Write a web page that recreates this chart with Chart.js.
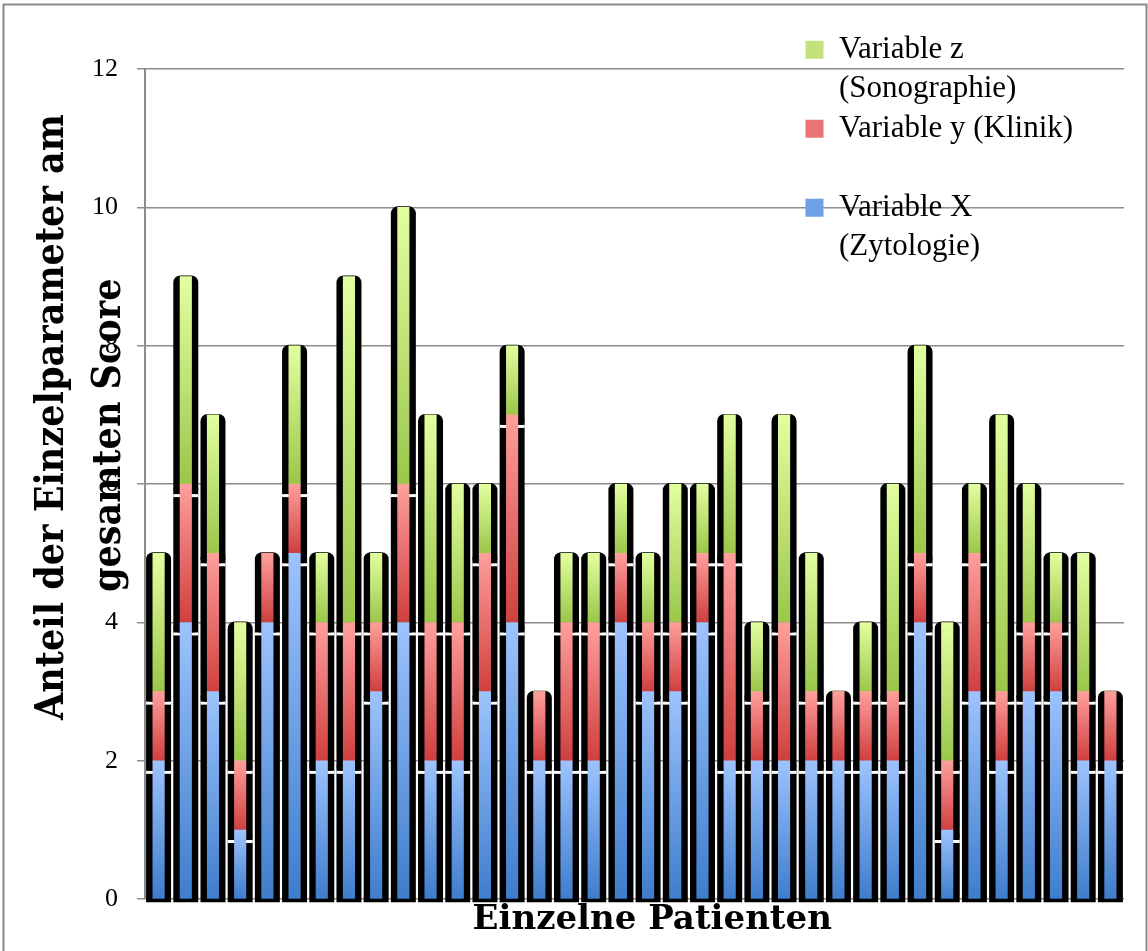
<!DOCTYPE html>
<html>
<head>
<meta charset="utf-8">
<title>Anteil der Einzelparameter am gesamten Score</title>
<script src="https://cdn.jsdelivr.net/npm/chart.js@4.4.1/dist/chart.umd.min.js"></script>
<style>
  html, body { margin: 0; padding: 0; background: #fff; }
  #wrap { width: 1148px; height: 951px; }
</style>
</head>
<body>
<div id="wrap"><canvas id="scoreChart" width="1148" height="951"></canvas></div>
<script>
// one bar per patient
const patients = ["1", "2", "3", "4", "5", "6", "7", "8", "9", "10", "11", "12",
  "13", "14", "15", "16", "17", "18", "19", "20", "21", "22", "23", "24",
  "25", "26", "27", "28", "29", "30", "31", "32", "33", "34", "35", "36"];

// Variable X (Zytologie) - bottom segment
const zytologie = [2, 4, 3, 1, 4, 5, 2, 2, 3, 4, 2, 2, 3, 4, 2, 2, 2, 4,
  3, 3, 4, 2, 2, 2, 2, 2, 2, 2, 4, 1, 3, 2, 3, 3, 2, 2];
// Variable y (Klinik) - middle segment
const klinik = [1, 2, 2, 1, 1, 1, 2, 2, 1, 2, 2, 2, 2, 3, 1, 2, 2, 1,
  1, 1, 1, 3, 1, 2, 1, 1, 1, 1, 1, 1, 2, 1, 1, 1, 1, 1];
// Variable z (Sonographie) - top segment
const sonographie = [2, 3, 2, 2, 0, 2, 1, 5, 1, 4, 3, 2, 1, 1, 0, 1, 1, 1,
  1, 2, 1, 2, 1, 3, 2, 0, 1, 3, 3, 2, 1, 4, 2, 1, 2, 0];

const yTicks = [0, 2, 4, 6, 8, 10, 12];

const legendLines = ["Variable z", "(Sonographie)", "Variable y (Klinik)", "", "Variable X", "(Zytologie)"];

const NB = "\u00a0";

// vertical gradient per segment, light on top, dark at the bottom
function segmentFill(light, dark, below) {
  return (c) => {
    if (c.type !== "data") return dark;
    const y = c.chart.scales.y;
    if (!y) return dark;
    const i = c.dataIndex;
    const start = below.reduce((s, arr) => s + arr[i], 0);
    const top = y.getPixelForValue(start + c.raw);
    const bottom = y.getPixelForValue(start);
    if (!isFinite(top) || !isFinite(bottom) || top === bottom) return dark;
    const g = c.chart.ctx.createLinearGradient(0, top, 0, bottom);
    g.addColorStop(0, light);
    g.addColorStop(1, dark);
    return g;
  };
}

// outer frame of the picture
const framePlugin = {
  id: "frame",
  beforeDraw(chart) {
    const ctx = chart.ctx;
    ctx.save();
    ctx.fillStyle = "#fff";
    ctx.fillRect(0, 0, chart.width, chart.height);
    ctx.strokeStyle = "#8a8a8a";
    ctx.lineWidth = 2;
    ctx.strokeRect(3.5, 4.5, 1143, 1000);
    ctx.restore();
  }
};

// thick black rounded shadow behind each bar segment
const shadowPlugin = {
  id: "barShadows",
  beforeDatasetsDraw(chart) {
    const ctx = chart.ctx;
    const axisBottom = chart.chartArea.bottom;
    ctx.save();
    chart.data.datasets.forEach((ds, i) => {
      const meta = chart.getDatasetMeta(i);
      meta.data.forEach((bar, j) => {
        if (!ds.data[j]) return;
        const { x, y, base } = bar.getProps(["x", "y", "base"], true);
        const w = 25;
        const left = x - w / 2;
        const top = y - 1;
        const isBottom = i === 0;
        const bottom = isBottom ? axisBottom + 3 : base + 10;
        if (!isBottom) {
          ctx.fillStyle = "#fff";
          ctx.fillRect(left, bottom, w, 3);
        }
        ctx.fillStyle = "#000";
        ctx.beginPath();
        ctx.roundRect(left, top, w, bottom - top, isBottom ? [7, 7, 0, 0] : [7, 7, 5, 5]);
        ctx.fill();
      });
    });
    ctx.restore();
  }
};

// legend sits over the top right of the plot
const legendPlacement = {
  id: "legendPlacement",
  afterLayout(chart) {
    const lg = chart.legend;
    if (!lg) return;
    const w = lg.width, h = lg.height;
    lg.left = 797;
    lg.top = 25.8;
    lg.right = lg.left + w;
    lg.bottom = lg.top + h;
  }
};

const swatches = ["#c4e27c", "transparent", "#e87474", "transparent", "#6f9fe4", "transparent"];

new Chart(document.getElementById("scoreChart"), {
  type: "bar",
  data: {
    labels: patients,
    datasets: [
      {
        label: "Variable X (Zytologie)",
        data: zytologie,
        backgroundColor: segmentFill("#9dc3fd", "#3e7dcc", []),
      },
      {
        label: "Variable y (Klinik)",
        data: klinik,
        backgroundColor: segmentFill("#ff9f9c", "#cf3f3f", [zytologie]),
      },
      {
        label: "Variable z (Sonographie)",
        data: sonographie,
        backgroundColor: segmentFill("#e2ffa0", "#9cc64a", [zytologie, klinik]),
      },
    ],
  },
  options: {
    responsive: false,
    animation: false,
    events: [],
    datasets: {
      bar: { barThickness: 11.5, borderWidth: 0 },
    },
    layout: { padding: { top: 69, left: 3, right: 24, bottom: 0 } },
    scales: {
      x: {
        stacked: true,
        grid: { display: false, drawTicks: false },
        border: { display: false },
        ticks: { display: false },
        title: {
          display: true,
          text: NB.repeat(3) + "Einzelne Patienten",
          color: "#000",
          font: { family: "'DejaVu Serif'", weight: "bold", size: 34, lineHeight: 1.2 },
          padding: { top: 1, bottom: 10 },
        },
      },
      y: {
        stacked: true,
        min: 0,
        max: 12,
        afterBuildTicks(scale) {
          scale.ticks = yTicks.map((v) => ({ value: v }));
        },
        afterFit(scale) {
          scale.width = 142;
        },
        ticks: {
          padding: 19,
          color: "#000",
          font: { family: "'Liberation Serif'", size: 26 },
        },
        grid: { color: "#8c8c8c", lineWidth: 1.5, tickLength: 8, drawTicks: true },
        border: { color: "#8c8c8c", width: 2 },
        title: {
          display: true,
          text: [NB.repeat(11) + "Anteil der Einzelparameter am", NB.repeat(8) + "gesamten Score"],
          color: "#000",
          font: { family: "'DejaVu Serif Condensed', 'DejaVu Serif'", weight: "bold", size: 39, lineHeight: "57px" },
          padding: { top: 21, bottom: 0 },
        },
      },
    },
    plugins: {
      tooltip: { enabled: false },
      legend: {
        position: "chartArea",
        align: "start",
        labels: {
          boxWidth: 18,
          boxHeight: 18,
          padding: 8.5,
          color: "#000",
          font: { family: "'Liberation Serif'", size: 31 },
          generateLabels: () =>
            legendLines.map((text, k) => ({
              text: text,
              fillStyle: swatches[k],
              strokeStyle: "transparent",
              lineWidth: 0,
              hidden: false,
            })),
        },
      },
    },
  },
  plugins: [framePlugin, shadowPlugin, legendPlacement],
});
</script>
</body>
</html>
